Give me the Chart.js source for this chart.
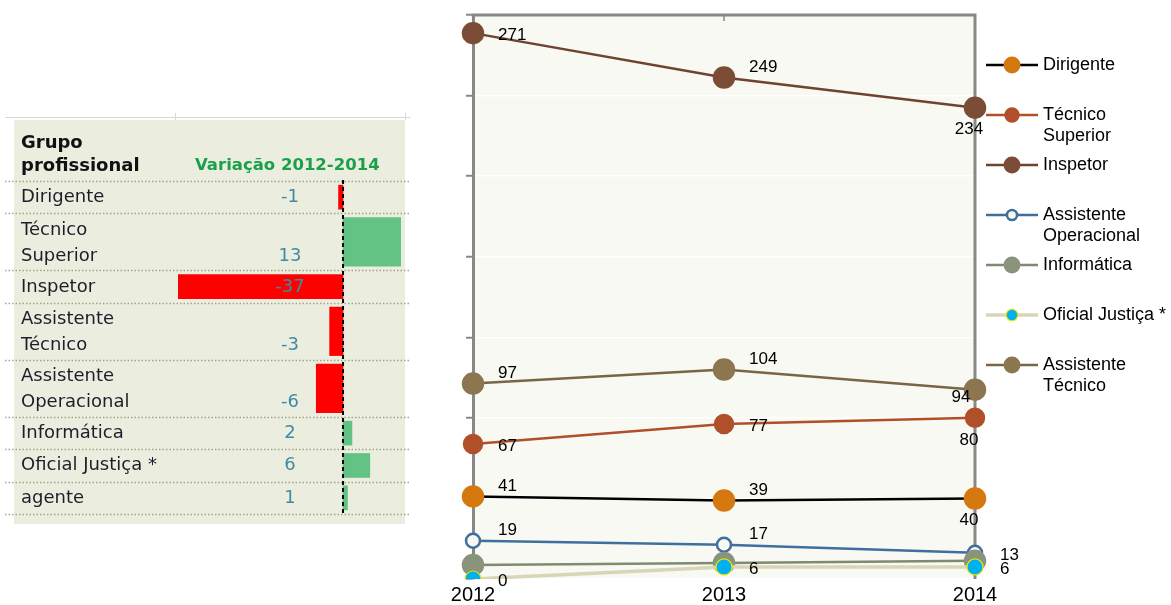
<!DOCTYPE html>
<html>
<head>
<meta charset="utf-8">
<script src="https://cdn.jsdelivr.net/npm/chart.js@4.4.0/dist/chart.umd.min.js"></script>
<style>
body { margin: 0; background: #fff; width: 1171px; height: 605px; overflow: hidden; position: relative; }
#leftChart { position: absolute; left: 5px; top: 110px; }
#rightChart { position: absolute; left: 440px; top: 0; }
</style>
</head>
<body>
<canvas id="leftChart" width="405" height="414"></canvas>
<canvas id="rightChart" width="731" height="605"></canvas>
<script>
// dados do gráfico de linhas
var years = ["2012", "2013", "2014"];
var dirigente = [41, 39, 40];
var tecnicoSuperior = [67, 77, 80];
var inspetor = [271, 249, 234];
var assistenteOperacional = [19, 17, 13];
var informatica = [7, 8, 9];
var oficialJustica = [0, 6, 6];
var assistenteTecnico = [97, 104, 94];
var yMax = 280;
var yStep = 40;

// dados da tabela (variação 2012-2014)
var grupos = [["Dirigente"], ["Técnico", "Superior"], ["Inspetor"], ["Assistente", "Técnico"],
    ["Assistente", "Operacional"], ["Informática"], ["Oficial Justiça *"], ["agente"]];
var variacao = [-1, 13, -37, -3, -6, 2, 6, 1];

// altura das linhas da tabela conforme o número de linhas de texto
var rowH = grupos.map(function (g) { return 7.5 + 24.5 * g.length; });
var rowStart = [];
var acc = 0;
rowH.forEach(function (h) { rowStart.push(acc); acc += h; });
var rowTotal = acc;

var tablePlugin = {
    id: "tabela",
    beforeDraw: function (chart) {
        var ctx = chart.ctx;
        ctx.save();
        ctx.fillStyle = "#ebeddf";
        ctx.fillRect(9, 10, 391, 404);
        ctx.strokeStyle = "#d8d8d8";
        ctx.lineWidth = 1;
        ctx.beginPath();
        ctx.moveTo(0, 7.5); ctx.lineTo(405, 7.5);
        ctx.moveTo(170.5, 3); ctx.lineTo(170.5, 10);
        ctx.moveTo(400.5, 3); ctx.lineTo(400.5, 10);
        ctx.stroke();
        ctx.restore();
    },
    afterDraw: function (chart) {
        var ctx = chart.ctx;
        var xs = chart.scales.x, ys = chart.scales.y;
        ctx.save();
        // separadores pontilhados
        ctx.strokeStyle = "#a3a38a";
        ctx.lineWidth = 1.5;
        ctx.setLineDash([1.5, 2]);
        for (var i = 0; i <= grupos.length; i++) {
            var yy = Math.round(ys.getPixelForValue(i < grupos.length ? rowStart[i] : rowTotal)) + 0.5;
            ctx.beginPath();
            ctx.moveTo(0, yy);
            ctx.lineTo(chart.width, yy);
            ctx.stroke();
        }
        // linha do zero
        var x0 = xs.getPixelForValue(0);
        ctx.strokeStyle = "#000";
        ctx.lineWidth = 2;
        ctx.setLineDash([4, 3]);
        ctx.beginPath();
        ctx.moveTo(x0, ys.getPixelForValue(0) - 1);
        ctx.lineTo(x0, ys.getPixelForValue(rowTotal) + 1);
        ctx.stroke();
        ctx.setLineDash([]);

        ctx.textBaseline = "middle";
        grupos.forEach(function (g, i) {
            var top = ys.getPixelForValue(rowStart[i]);
            ctx.font = "18px 'DejaVu Sans'";
            ctx.fillStyle = "#1e1e2a";
            ctx.textAlign = "left";
            g.forEach(function (t, k) { ctx.fillText(t, 16, top + 16.5 + 26 * k); });
            ctx.fillStyle = "#3f8aa6";
            ctx.textAlign = "center";
            ctx.fillText(String(variacao[i]), 285, top + 16.5 + 26 * (g.length - 1));
        });

        // cabeçalho
        ctx.textAlign = "left";
        ctx.font = "bold 18px 'DejaVu Sans'";
        ctx.fillStyle = "#111";
        ctx.fillText("Grupo", 16, 33);
        ctx.fillText("profissional", 16, 56);
        ctx.font = "bold 16.5px 'DejaVu Sans'";
        ctx.fillStyle = "#1aa04a";
        ctx.fillText("Variação 2012-2014", 190, 56);
        ctx.restore();
    }
};

new Chart(document.getElementById("leftChart"), {
    type: "bar",
    data: {
        datasets: grupos.map(function (g, i) {
            return {
                label: g.join(" "),
                data: [{ x: variacao[i], y: rowStart[i] + rowH[i] / 2 }],
                backgroundColor: variacao[i] < 0 ? "#ff0000" : "#63c384",
                borderWidth: 0,
                barThickness: rowH[i] - 8,
                stack: "v"
            };
        })
    },
    options: {
        responsive: false,
        animation: false,
        events: [],
        indexAxis: "y",
        layout: { padding: { left: 173, right: 9, top: 71, bottom: 10 } },
        scales: {
            x: { type: "linear", min: -37, max: 13, stacked: false, offset: false, display: false },
            y: { type: "linear", min: 0, max: rowTotal, reverse: true, offset: false, display: false }
        },
        plugins: { legend: { display: false }, tooltip: { enabled: false } }
    },
    plugins: [tablePlugin]
});

// séries do gráfico de linhas
var series = [
    { name: ["Dirigente"], values: dirigente, line: "#000000", point: "#d5780f", r: 10, labelAt: ["ra", "ra", "b"] },
    { name: ["Técnico", "Superior"], values: tecnicoSuperior, line: "#b0502a", point: "#b0502a", r: 9, labelAt: ["r", "r", "b"] },
    { name: ["Inspetor"], values: inspetor, line: "#6e4330", point: "#7b4c36", r: 10, labelAt: ["r", "ra", "b"] },
    { name: ["Assistente", "Operacional"], values: assistenteOperacional, line: "#3f6f9c", point: "#f7f9f2", border: "#3f6f9c", r: 7, labelAt: ["ra", "ra", "r"] },
    { name: ["Informática"], values: informatica, line: "#7f8a70", point: "#8a937c", r: 10, labelAt: null, order: -1 },
    { name: ["Oficial Justiça *"], values: oficialJustica, line: "#d8d6b6", point: "#00b0f0", border: "#e6e600", bw: 1.2, lw: 3.5, r: 8, labelAt: ["r", "r", "r"], order: -2 },
    { name: ["Assistente", "Técnico"], values: assistenteTecnico, line: "#7a6544", point: "#8c7650", r: 10, labelAt: ["ra", "ra", "bl"] }
];

var plotPlugin = {
    id: "moldura",
    beforeDraw: function (chart) {
        var a = chart.chartArea, ctx = chart.ctx;
        ctx.save();
        ctx.fillStyle = "#f7f9f2";
        ctx.fillRect(a.left, a.top, a.right - a.left, a.bottom - a.top);
        ctx.restore();
    },
    beforeDatasetsDraw: function (chart) {
        var a = chart.chartArea, ctx = chart.ctx;
        ctx.save();
        ctx.strokeStyle = "#888";
        ctx.lineWidth = 3;
        ctx.beginPath();
        ctx.moveTo(a.left - 1.5, a.top);
        ctx.lineTo(a.right, a.top);
        ctx.lineTo(a.right, a.bottom);
        ctx.stroke();
        var xm = chart.scales.x.getPixelForValue(1);
        ctx.lineWidth = 1.5;
        ctx.beginPath();
        ctx.moveTo(xm, a.top);
        ctx.lineTo(xm, a.top + 6);
        ctx.stroke();
        ctx.restore();
    },
    afterDatasetsDraw: function (chart) {
        var ctx = chart.ctx;
        ctx.save();
        ctx.font = "17px 'Liberation Sans'";
        ctx.fillStyle = "#000";
        ctx.textBaseline = "middle";
        series.forEach(function (s, di) {
            if (!s.labelAt) return;
            chart.getDatasetMeta(di).data.forEach(function (pt, i) {
                var mode = s.labelAt[i], txt = String(s.values[i]);
                if (mode === "r") { ctx.textAlign = "left"; ctx.fillText(txt, pt.x + 25, pt.y + 2); }
                else if (mode === "ra") { ctx.textAlign = "left"; ctx.fillText(txt, pt.x + 25, pt.y - 10); }
                else if (mode === "b") { ctx.textAlign = "center"; ctx.fillText(txt, pt.x - 6, pt.y + 22); }
                else { ctx.textAlign = "center"; ctx.fillText(txt, pt.x - 14, pt.y + 8); }
            });
        });
        ctx.restore();
    },
    afterDraw: function (chart) {
        // legenda à direita
        var ctx = chart.ctx;
        ctx.save();
        series.forEach(function (s, i) {
            var y0 = 65 + 50 * i;
            ctx.strokeStyle = s.line;
            ctx.lineWidth = s.lw || 2.5;
            ctx.beginPath();
            ctx.moveTo(546, y0);
            ctx.lineTo(598, y0);
            ctx.stroke();
            ctx.beginPath();
            ctx.arc(572, y0, s.r * 0.72, 0, Math.PI * 2);
            ctx.fillStyle = s.point;
            ctx.fill();
            ctx.lineWidth = s.bw || 2.5;
            ctx.strokeStyle = s.border || s.point;
            ctx.stroke();
            ctx.font = "18px 'Liberation Sans'";
            ctx.fillStyle = "#000";
            ctx.textAlign = "left";
            ctx.textBaseline = "middle";
            s.name.forEach(function (t, k) { ctx.fillText(t, 603, y0 + 21.5 * k); });
        });
        ctx.restore();
    }
};

new Chart(document.getElementById("rightChart"), {
    type: "line",
    data: {
        labels: years,
        datasets: series.map(function (s) {
            return {
                label: s.name.join(" "),
                data: s.values,
                borderColor: s.line,
                borderWidth: s.lw || 2.5,
                pointRadius: s.r,
                pointBackgroundColor: s.point,
                pointBorderColor: s.border || s.point,
                pointBorderWidth: s.bw || 2.5,
                tension: 0,
                order: s.order || 0
            };
        })
    },
    options: {
        responsive: false,
        animation: false,
        events: [],
        layout: { padding: { left: 25, right: 196, top: 15, bottom: 0 } },
        scales: {
            x: {
                offset: false,
                grid: { display: false },
                border: { display: false },
                ticks: { color: "#000", font: { family: "'Liberation Sans'", size: 20 }, padding: -4, maxRotation: 0 },
                afterFit: function (s) { s.height = 26; }
            },
            y: {
                min: 0,
                max: yMax,
                ticks: { stepSize: yStep, display: false },
                grid: { color: "rgba(255,255,255,1)", lineWidth: 1.5, tickColor: "#888", tickLength: 7, tickWidth: 2 },
                border: { display: true, color: "#888", width: 3 },
                afterFit: function (s) { s.width = 8; }
            }
        },
        plugins: { legend: { display: false }, tooltip: { enabled: false } }
    },
    plugins: [plotPlugin]
});
</script>
</body>
</html>
